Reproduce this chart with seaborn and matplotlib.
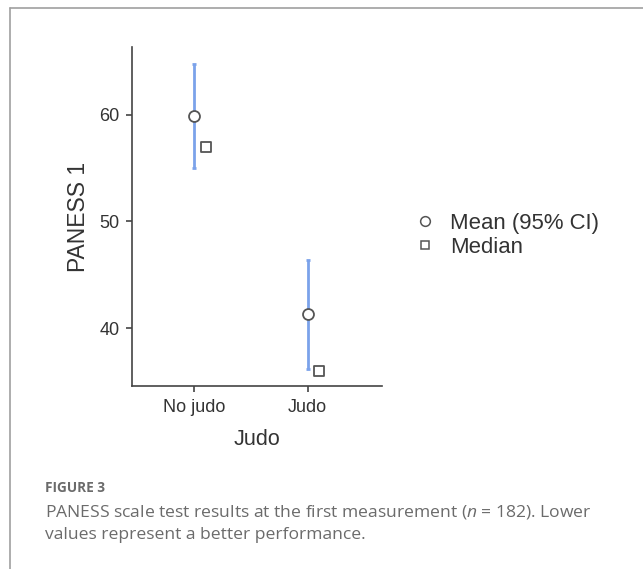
import numpy as np
import pandas as pd
import matplotlib
matplotlib.use("Agg")
import matplotlib.pyplot as plt
from matplotlib.lines import Line2D
import seaborn as sns

# ---- data ----
categories = ["No judo", "Judo"]
means = [59.9, 41.3]
ci_low = [55.0, 36.2]
ci_high = [64.8, 46.4]
medians = [57.0, 36.0]
y_ticks = [40, 50, 60]
x_label = "Judo"
y_label = "PANESS 1"
legend_labels = ["Mean (95% CI)", "Median"]

sns.set_theme(style="ticks")
plt.rcParams['font.family'] = ['Liberation Sans', 'DejaVu Sans']
plt.rcParams['mathtext.fontset'] = 'custom'
plt.rcParams['mathtext.rm'] = 'Open Sans'
plt.rcParams['mathtext.it'] = 'Open Sans:italic'

fig = plt.figure(figsize=(6.43, 5.69), dpi=100)
W, H = 643, 569
ax = fig.add_axes([132 / W, 1 - 386 / H, 250 / W, (386 - 47) / H])

pos = np.arange(len(categories))
df = pd.DataFrame({"pos": pos, "mean": means, "lo": ci_low, "hi": ci_high,
                   "median": medians, "mpos": pos + 0.1})

blue = "#7ba2ea"
edge = "#555555"
ax.vlines(df["pos"], df["lo"], df["hi"], color=blue, lw=2, zorder=1)
ax.hlines(df["lo"], df["pos"] - 0.018, df["pos"] + 0.018, color=blue, lw=2, zorder=1)
ax.hlines(df["hi"], df["pos"] - 0.018, df["pos"] + 0.018, color=blue, lw=2, zorder=1)
sns.scatterplot(data=df, x="pos", y="mean", marker="o", s=62, color="white",
                edgecolor=edge, linewidth=1.3, ax=ax, zorder=3, legend=False)
sns.scatterplot(data=df, x="mpos", y="median", marker="s", s=45, color="white",
                edgecolor=edge, linewidth=1.3, ax=ax, zorder=3, legend=False)

ax.set_xlim(-0.549, 1.655)
ax.set_ylim(34.56, 66.37)
ax.set_xticks(pos)
ax.set_xticklabels(categories)
ax.set_yticks(y_ticks)
for s in ["top", "right"]:
    ax.spines[s].set_visible(False)
for s in ["left", "bottom"]:
    ax.spines[s].set_color("#444444")
    ax.spines[s].set_linewidth(1.2)
ax.tick_params(axis="both", length=4, width=1.2, color="#444444",
               labelsize=13, labelcolor="#333333", pad=5)
ax.set_xlabel(x_label, fontsize=15.5, color="#333333", labelpad=10)
ax.set_ylabel(y_label, fontsize=16.5, color="#333333", labelpad=7)

handles = [
    Line2D([], [], marker="o", ls="", mfc="white", mec=edge, mew=1.1, ms=7),
    Line2D([], [], marker="s", ls="", mfc="white", mec=edge, mew=1.1, ms=6),
]
leg = fig.legend(handles, legend_labels, loc="center left",
                 bbox_to_anchor=(403 / W, 1 - 235.5 / H), frameon=False,
                 fontsize=15.9, borderpad=0, handlelength=1, handletextpad=0.64,
                 labelspacing=0.13)
for t in leg.get_texts():
    t.set_color("#333333")

# frame
frame_c = "#a0a0a0"
fig.add_artist(Line2D([10 / W, 1], [1 - 8 / H, 1 - 8 / H], color=frame_c, lw=1.2))
fig.add_artist(Line2D([10 / W, 10 / W], [0, 1 - 8 / H], color=frame_c, lw=1.2))

# caption
cap_c = "#6b6b6b"
fig.text(45 / W, 1 - 488 / H, "FIGURE 3", fontsize=9.8, color=cap_c,
         family=["Open Sans", "DejaVu Sans"], weight="bold", va="center")
fig.text(45 / W, 1 - 511.7 / H,
         r"PANESS scale test results at the first measurement ($\mathit{n}$ = 182). Lower",
         fontsize=12.6, color=cap_c, family=["Open Sans", "DejaVu Sans"], va="center")
fig.text(45 / W, 1 - 535 / H, "values represent a better performance.",
         fontsize=12.6, color=cap_c, family=["Open Sans", "DejaVu Sans"], va="center")

fig.savefig("out.png", dpi=100)
